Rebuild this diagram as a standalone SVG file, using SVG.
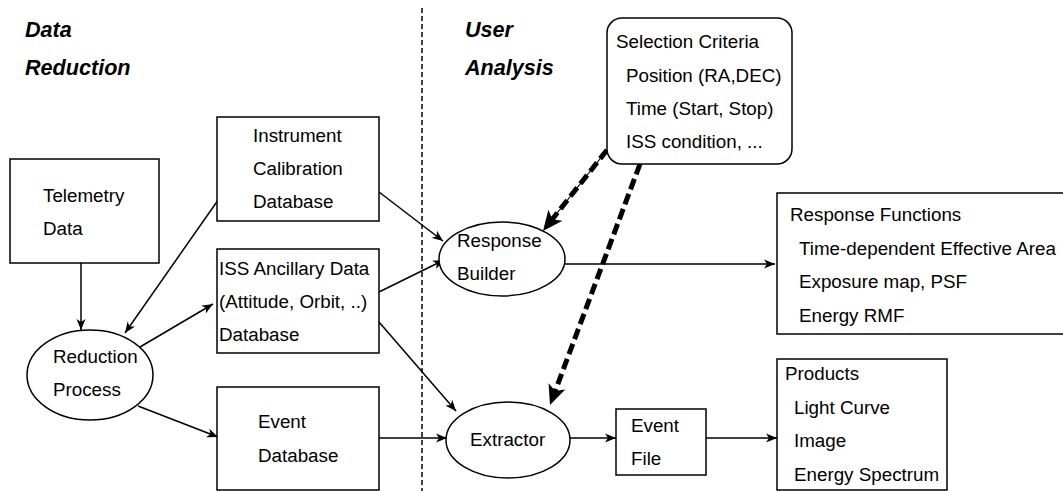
<svg xmlns="http://www.w3.org/2000/svg" width="1063" height="491" viewBox="0 0 1063 491">
  <defs>
    <style>
      text { font-family: "Liberation Sans", Arial, sans-serif; font-size: 18.8px; fill: #000; }
      .title { font-weight: bold; font-style: italic; font-size: 21.6px; }
      .shape { fill: #fff; stroke: #000; stroke-width: 1.5; }
      .link { fill: none; stroke: #000; stroke-width: 1.5; marker-end: url(#arrow); }
      .bold-link { fill: none; stroke: #000; stroke-width: 5; stroke-dasharray: 11 5; marker-end: url(#arrow-big); }
      .guide { fill: none; stroke: #000; stroke-width: 1.2; }
      .divider { fill: none; stroke: #000; stroke-width: 1.5; stroke-dasharray: 5 3; }
    </style>
    <marker id="arrow" markerUnits="userSpaceOnUse" markerWidth="12" markerHeight="10" refX="11" refY="5" orient="auto">
      <path d="M0,0.5 L11,5 L0,9.5 L3,5 z" fill="#000"/>
    </marker>
    <marker id="arrow-big" markerUnits="userSpaceOnUse" markerWidth="21" markerHeight="19" refX="6" refY="9" orient="auto">
      <path d="M0,0 L20,9 L0,18 L5,9 z" fill="#000"/>
    </marker>
  </defs>

  <!-- section headings and the dividing line -->
  <g id="headings">
    <text class="title" x="25" y="37">Data</text>
    <text class="title" x="25" y="75">Reduction</text>
    <text class="title" x="465" y="37">User</text>
    <text class="title" x="465" y="75">Analysis</text>
    <line class="divider" x1="422" y1="8" x2="422" y2="491"/>
  </g>

  <!-- connectors -->
  <g id="connectors">
    <line class="link" x1="81" y1="263" x2="81" y2="330"/>
    <line class="link" x1="223" y1="193" x2="125" y2="333"/>
    <line class="link" x1="140" y1="347" x2="213" y2="304"/>
    <line class="link" x1="138" y1="406" x2="218" y2="437"/>
    <line class="link" x1="379" y1="192" x2="443" y2="241"/>
    <line class="link" x1="379" y1="292" x2="444" y2="260"/>
    <line class="link" x1="379" y1="322" x2="456" y2="411"/>
    <line class="link" x1="379" y1="438" x2="447" y2="438"/>
    <line class="link" x1="565" y1="264" x2="775" y2="264"/>
    <line class="link" x1="570" y1="438" x2="616" y2="438"/>
    <line class="link" x1="706" y1="438" x2="777" y2="438"/>
    <line class="guide" x1="607" y1="150" x2="551.7" y2="220"/>
    <line class="bold-link" x1="607" y1="150" x2="551.7" y2="220"/>
    <line class="bold-link" x1="640" y1="164" x2="554.9" y2="391.9"/>
  </g>

  <g id="telemetry">
    <rect class="shape" x="10" y="159" width="149" height="104"/>
    <text x="43" y="202">Telemetry</text>
    <text x="43" y="235">Data</text>
  </g>

  <g id="calibration-db">
    <rect class="shape" x="217" y="117" width="162" height="104"/>
    <text x="253" y="142">Instrument</text>
    <text x="253" y="175">Calibration</text>
    <text x="253" y="208">Database</text>
  </g>

  <g id="ancillary-db">
    <rect class="shape" x="217" y="249" width="162" height="104"/>
    <text x="219" y="275">ISS Ancillary Data</text>
    <text x="219" y="308">(Attitude, Orbit, ..)</text>
    <text x="219" y="341">Database</text>
  </g>

  <g id="event-db">
    <rect class="shape" x="217" y="387" width="162" height="103"/>
    <text x="258" y="428">Event</text>
    <text x="258" y="462">Database</text>
  </g>

  <g id="reduction-process">
    <ellipse class="shape" cx="90" cy="375" rx="63" ry="45"/>
    <text x="53" y="363">Reduction</text>
    <text x="53" y="396">Process</text>
  </g>

  <g id="selection-criteria">
    <rect class="shape" x="607" y="18" width="185" height="146" rx="15" ry="15"/>
    <text x="616" y="48">Selection Criteria</text>
    <text x="626" y="82">Position (RA,DEC)</text>
    <text x="626" y="115">Time (Start, Stop)</text>
    <text x="626" y="148">ISS condition, ...</text>
  </g>

  <g id="response-builder">
    <ellipse class="shape" cx="502" cy="259" rx="63" ry="37"/>
    <text x="457" y="247">Response</text>
    <text x="457" y="280">Builder</text>
  </g>

  <g id="extractor">
    <ellipse class="shape" cx="508" cy="440" rx="62" ry="38"/>
    <text x="470" y="446">Extractor</text>
  </g>

  <g id="event-file">
    <rect class="shape" x="616" y="409" width="90" height="66"/>
    <text x="631" y="432">Event</text>
    <text x="631" y="465">File</text>
  </g>

  <g id="response-functions">
    <rect class="shape" x="777" y="193" width="295" height="141"/>
    <text x="790" y="221">Response Functions</text>
    <text x="799" y="255">Time-dependent Effective Area</text>
    <text x="799" y="288">Exposure map, PSF</text>
    <text x="799" y="322">Energy RMF</text>
  </g>

  <g id="products">
    <rect class="shape" x="777" y="359" width="170" height="131"/>
    <text x="785" y="380">Products</text>
    <text x="794" y="414">Light Curve</text>
    <text x="794" y="447">Image</text>
    <text x="794" y="481">Energy Spectrum</text>
  </g>
</svg>
